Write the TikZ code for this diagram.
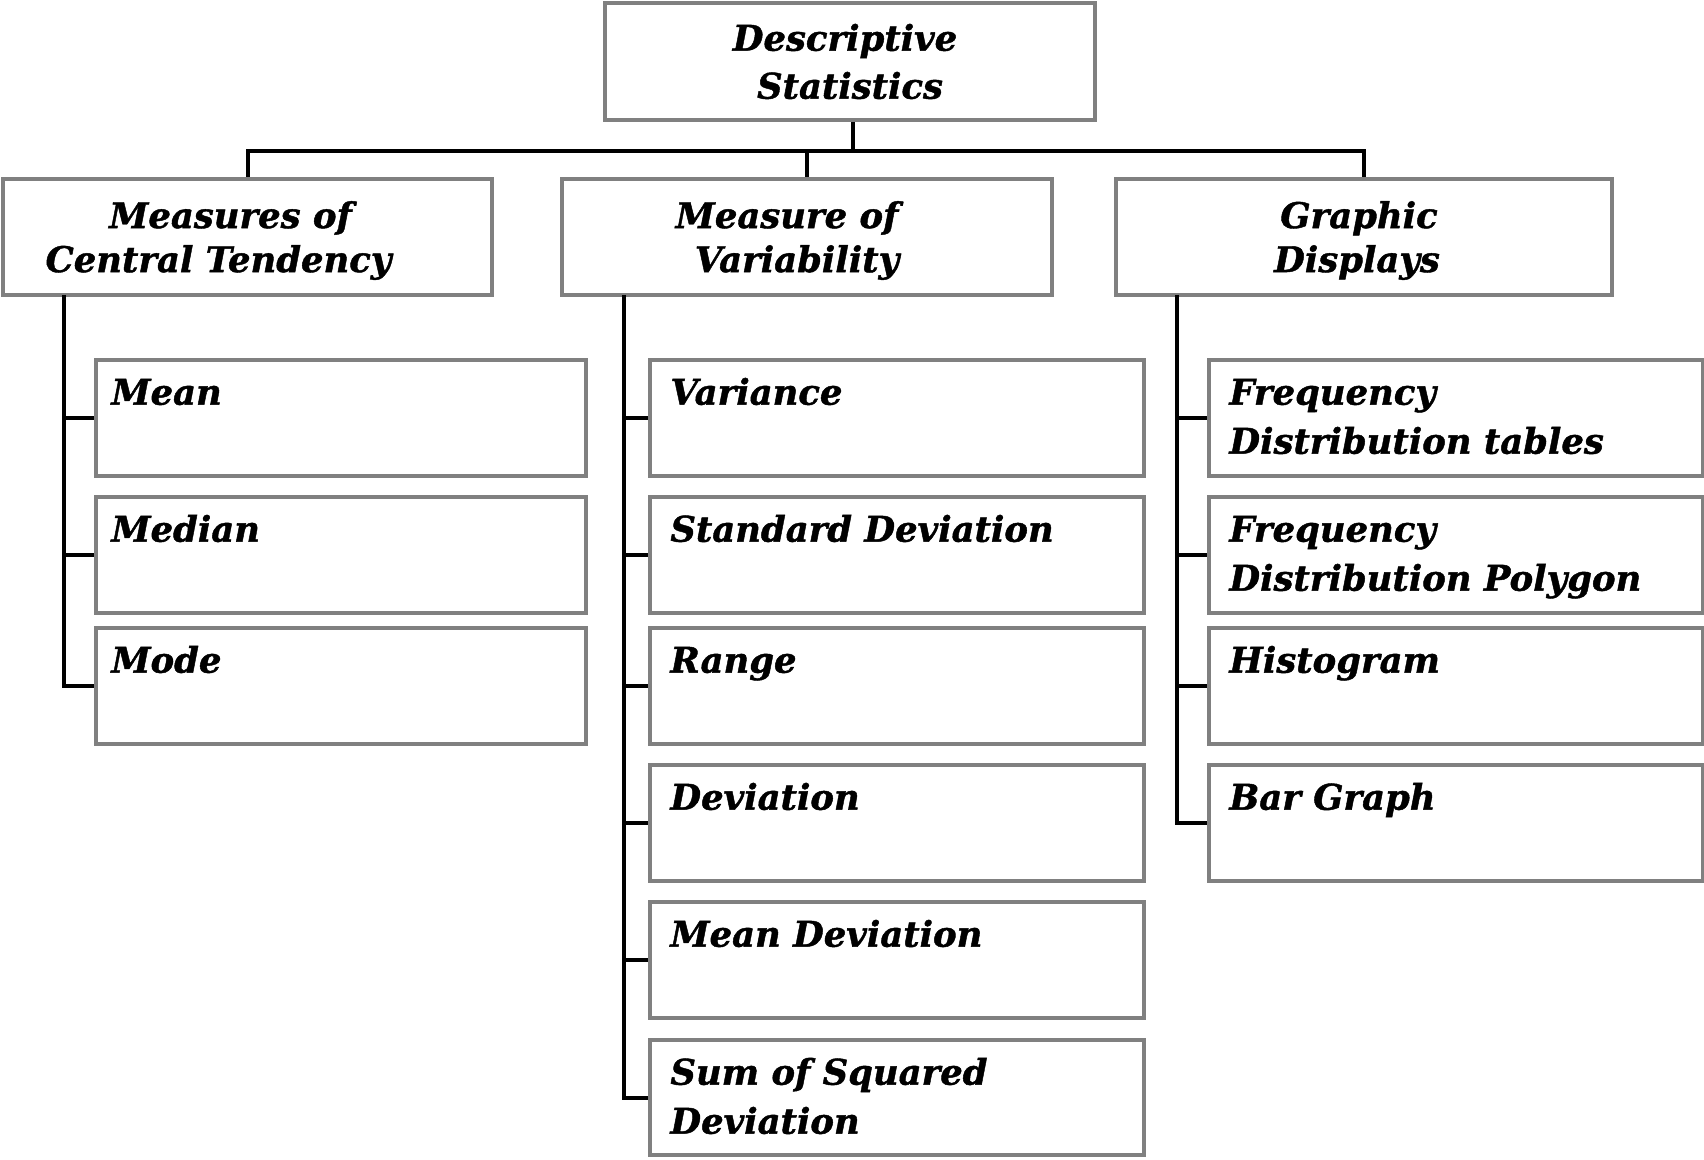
\documentclass[tikz,border=0pt]{standalone}
\usepackage{fontspec}
\setmainfont{DejaVu Serif}
\newfontfamily\heavy{DejaVu Serif}[FakeBold=1.2]
\newcommand{\shiftline}[2]{\makebox[0pt][c]{\kern#1\relax #2}}
\newcommand{\lowstrut}{\rule{0pt}{17pt}}
\begin{document}
\begin{tikzpicture}[x=0.5pt,y=-0.5pt,
  box/.style={draw=boxgray, line width=2pt, fill=white, inner sep=0pt, minimum height=58pt},
  head/.style={box, align=center, font=\fontsize{17.7}{22}\selectfont\heavy\bfseries\itshape},
  leaf/.style={box, minimum width=#1},
  tag/.style={anchor=north west, inner sep=0pt, align=left, xshift=11pt, yshift=-6pt,
    font=\fontsize{17.7}{24.5}\selectfont\heavy\bfseries\itshape},
  conn/.style={line width=2pt, black}]
\definecolor{boxgray}{RGB}{128,128,128}
\useasboundingbox (0,0) rectangle (1704,1160);
% top
\node[head, minimum width=245pt, minimum height=58.5pt, font=\fontsize{17.7}{24}\selectfont\heavy\bfseries\itshape] (top) at (850,61.5) {\shiftline{-5pt}{Descriptive}\\\shiftline{0pt}{Statistics}};
% level 2
\node[head, minimum width=244.5pt] (l2a) at (247.5,237) {\lowstrut\shiftline{-17pt}{Measures of}\\\shiftline{-29pt}{Central Tendency}};
\node[head, minimum width=245pt] (l2b) at (807,237) {\lowstrut\shiftline{-20pt}{Measure of}\\\shiftline{-10pt}{Variability}};
\node[head, minimum width=248pt] (l2c) at (1364,237) {\lowstrut\shiftline{-5pt}{Graphic}\\\shiftline{-7pt}{Displays}};
% children left
\node[leaf=245pt, label={[tag, xshift=-2.5pt]north west:{\strut Mean}}] (a1) at (341,418) {};
\node[leaf=245pt, label={[tag, xshift=-2.5pt]north west:{\strut Median}}] (a2) at (341,555) {};
\node[leaf=245pt, label={[tag, xshift=-2.5pt]north west:{\strut Mode}}] (a3) at (341,686) {};
% children middle
\node[leaf=247pt, label={[tag]north west:{\strut Variance}}] (b1) at (897,418) {};
\node[leaf=247pt, label={[tag]north west:{\strut Standard Deviation}}] (b2) at (897,555) {};
\node[leaf=247pt, label={[tag]north west:{\strut Range}}] (b3) at (897,686) {};
\node[leaf=247pt, label={[tag]north west:{\strut Deviation}}] (b4) at (897,823) {};
\node[leaf=247pt, label={[tag]north west:{\strut Mean Deviation}}] (b5) at (897,960) {};
\node[leaf=247pt, minimum height=57.5pt, label={[tag]north west:{\strut Sum of Squared\\Deviation}}] (b6) at (897,1097.5) {};
% children right
\node[leaf=247pt, label={[tag]north west:{\strut Frequency\\Distribution tables}}] (c1) at (1456,418) {};
\node[leaf=247pt, label={[tag]north west:{\strut Frequency\\Distribution Polygon}}] (c2) at (1456,555) {};
\node[leaf=247pt, label={[tag]north west:{\strut Histogram}}] (c3) at (1456,686) {};
\node[leaf=247pt, label={[tag]north west:{\strut Bar Graph}}] (c4) at (1456,823) {};
% connectors top
\coordinate (hub) at (853,151);
\draw[conn] (top.south -| hub) -- (hub);
\draw[conn] (l2a.north) |- (hub) -| (l2c.north);
\draw[conn] (hub -| l2b.north) -- (l2b.north);
% trunks
\coordinate (ta) at (64,295);
\coordinate (tb) at (624,295);
\coordinate (tc) at (1177,295);
\draw[conn] (ta) |- (a3.west);
\foreach \n in {a1,a2} \draw[conn] (ta |- \n.west) -- (\n.west);
\draw[conn] (tb) |- (b6.west);
\foreach \n in {b1,b2,b3,b4,b5} \draw[conn] (tb |- \n.west) -- (\n.west);
\draw[conn] (tc) |- (c4.west);
\foreach \n in {c1,c2,c3} \draw[conn] (tc |- \n.west) -- (\n.west);
\end{tikzpicture}
\end{document}
